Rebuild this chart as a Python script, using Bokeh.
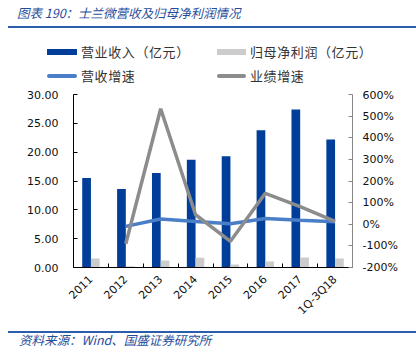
import math
import numpy as np
from bokeh.plotting import figure
from bokeh.layouts import column
from bokeh.models import (ColumnDataSource, Range1d, LinearAxis, FixedTicker, NumeralTickFormatter,
                          PrintfTickFormatter, Div)
from bokeh.embed import file_html
from bokeh.resources import INLINE

# ---- data ----
categories = ["2011", "2012", "2013", "2014", "2015", "2016", "2017", "1Q-3Q18"]
revenue = [15.5, 13.6, 16.4, 18.7, 19.3, 23.8, 27.4, 22.2]          # 营业收入（亿元）
net_profit = [1.55, 0.2, 1.2, 1.67, 0.5, 1.03, 1.72, 1.55]           # 归母净利润（亿元）
growth_categories = ["2012", "2013", "2014", "2015", "2016", "2017", "1Q-3Q18"]
revenue_growth = [-10, 24, 13, 2, 27, 19, 12]                        # 营收增速 (%)
profit_growth = [-90, 534, 44, -79, 143, 82, 13]                     # 业绩增速 (%)
left_ticks = [0, 5, 10, 15, 20, 25, 30]
right_ticks = [-200, -100, 0, 100, 200, 300, 400, 500, 600]

title_text = "图表 190：士兰微营收及归母净利润情况"
source_text = "资料来源：Wind、国盛证券研究所"
legend_labels = ["营业收入（亿元）", "归母净利润（亿元）", "营收增速", "业绩增速"]

BLUE = "#003E99"
LIGHT_GRAY = "#CCCCCC"
LINE_BLUE = "#4A7FC8"
LINE_GRAY = "#8C8C8C"
TITLE_BLUE = "#1F4E9C"
RULE_BLUE = "#2B5DAD"

W = 416
HEAD_H, MAIN_H, FOOT_H = 88, 236, 30
FL, FR, FT, FB = 73, 352, 94 - HEAD_H, 267 - HEAD_H   # frame edges inside main figure

n = len(categories)
centers = np.arange(n) + 0.5                      # category centre positions on the x scale
pos = {c: centers[i] for i, c in enumerate(categories)}

CJK = "'Noto Sans CJK SC', sans-serif"

# ================= header: title, rule, legend =================
def key(left, top, w, h, color, rounded=False):
    r = "border-radius:2px;" if rounded else ""
    return (f'<div style="position:absolute;left:{left}px;top:{top}px;width:{w}px;height:{h}px;'
            f'background:{color};{r}"></div>')

def txt(left, top, s, size, color, italic=False, lh=18, ls=0):
    st = "italic" if italic else "normal"
    return (f'<div style="position:absolute;left:{left}px;top:{top}px;white-space:nowrap;'
            f'font-family:{CJK};font-style:{st};font-size:{size}px;line-height:{lh}px;'
            f'letter-spacing:{ls}px;color:{color}">{s}</div>')

head_html = (
    f'<div style="position:relative;width:{W}px;height:{HEAD_H}px;background:white;overflow:hidden">'
    + txt(17, 4, title_text, 12.5, TITLE_BLUE, italic=True)
    + key(8, 26, W - 8, 2, RULE_BLUE)
    + key(47, 49, 30, 6, BLUE) + txt(81, 43, legend_labels[0], 13, "#333333", ls=0.6)
    + key(217, 49, 29, 6, LIGHT_GRAY) + txt(250, 43, legend_labels[1], 13, "#333333", ls=0.6)
    + key(47, 74, 30, 4, LINE_BLUE, True) + txt(81, 67, legend_labels[2], 13, "#333333", ls=0.6)
    + key(217, 74, 29, 4, LINE_GRAY, True) + txt(250, 67, legend_labels[3], 13, "#333333", ls=0.6)
    + '</div>'
)
head = Div(text=head_html, width=W, height=HEAD_H, margin=0)

# ================= main chart =================
p = figure(width=W, height=MAIN_H, x_range=Range1d(0, n), y_range=Range1d(0, 30),
           output_backend="svg", toolbar_location=None,
           x_axis_location=None, y_axis_location=None,
           min_border_left=FL, min_border_right=W - FR,
           min_border_top=FT, min_border_bottom=MAIN_H - FB)
p.outline_line_color = None
p.xgrid.visible = False
p.ygrid.visible = False
p.background_fill_color = "white"
p.border_fill_color = "white"
p.extra_y_ranges = {"pct": Range1d(-200, 600)}

left = LinearAxis(ticker=FixedTicker(ticks=left_ticks), formatter=NumeralTickFormatter(format="0.00"))
right = LinearAxis(y_range_name="pct", ticker=FixedTicker(ticks=right_ticks),
                   formatter=PrintfTickFormatter(format="%d%%"))
for ax, col, so in ((left, "#000000", 15), (right, "#888888", 10)):
    ax.major_tick_in = 4
    ax.major_tick_out = 0
    ax.minor_tick_line_color = None
    ax.axis_line_color = col
    ax.major_tick_line_color = col
    ax.major_label_text_font = "DejaVu Sans"
    ax.major_label_text_font_size = "11px"
    ax.major_label_text_color = "#111111"
    ax.major_label_standoff = so
p.add_layout(left, "left")
p.add_layout(right, "right")

# boundary ticks between categories (no labels)
bticks = list(range(1, n))
tick_axis = LinearAxis(ticker=FixedTicker(ticks=bticks, minor_ticks=[]))
tick_axis.major_label_overrides = {t: "" for t in bticks}
tick_axis.major_tick_in = 4
tick_axis.major_tick_out = 0
tick_axis.minor_tick_line_color = None
tick_axis.axis_line_color = "#000000"
tick_axis.major_tick_line_color = "#000000"
tick_axis.major_label_standoff = 0
p.add_layout(tick_axis, "below")

# category labels at centres
cat_axis = LinearAxis(ticker=FixedTicker(ticks=list(centers), minor_ticks=[]))
cat_axis.major_label_overrides = {float(c): lab for c, lab in zip(centers, categories)}
cat_axis.axis_line_color = None
cat_axis.major_tick_line_color = None
cat_axis.minor_tick_line_color = None
cat_axis.major_tick_out = 0
cat_axis.major_tick_in = 0
cat_axis.major_label_orientation = math.pi / 4
cat_axis.major_label_text_font = "DejaVu Sans"
cat_axis.major_label_text_font_size = "11px"
cat_axis.major_label_text_color = "#111111"
cat_axis.major_label_standoff = 10
p.add_layout(cat_axis, "below")

src = ColumnDataSource(dict(x_rev=centers - 0.125, x_np=centers + 0.125,
                            revenue=revenue, net_profit=net_profit))
p.vbar(x="x_rev", top="revenue", width=0.25, source=src, fill_color=BLUE, line_color=None)
p.vbar(x="x_np", top="net_profit", width=0.25, source=src, fill_color=LIGHT_GRAY, line_color=None)

gsrc = ColumnDataSource(dict(x=[pos[c] for c in growth_categories], rg=revenue_growth, pg=profit_growth))
p.line("x", "rg", source=gsrc, y_range_name="pct", line_color=LINE_BLUE, line_width=3.5)
p.line("x", "pg", source=gsrc, y_range_name="pct", line_color=LINE_GRAY, line_width=3.5)

# ================= footer: rule, source =================
foot_html = (
    f'<div style="position:relative;width:{W}px;height:{FOOT_H}px;background:white;overflow:hidden">'
    + key(8, 7, W - 8, 2, RULE_BLUE)
    + txt(19, 8, source_text, 12.5, TITLE_BLUE, italic=True, lh=16)
    + '</div>'
)
foot = Div(text=foot_html, width=W, height=FOOT_H, margin=0)

layout = column(head, p, foot, spacing=0)
open("out.html", "w").write(file_html(layout, INLINE))
